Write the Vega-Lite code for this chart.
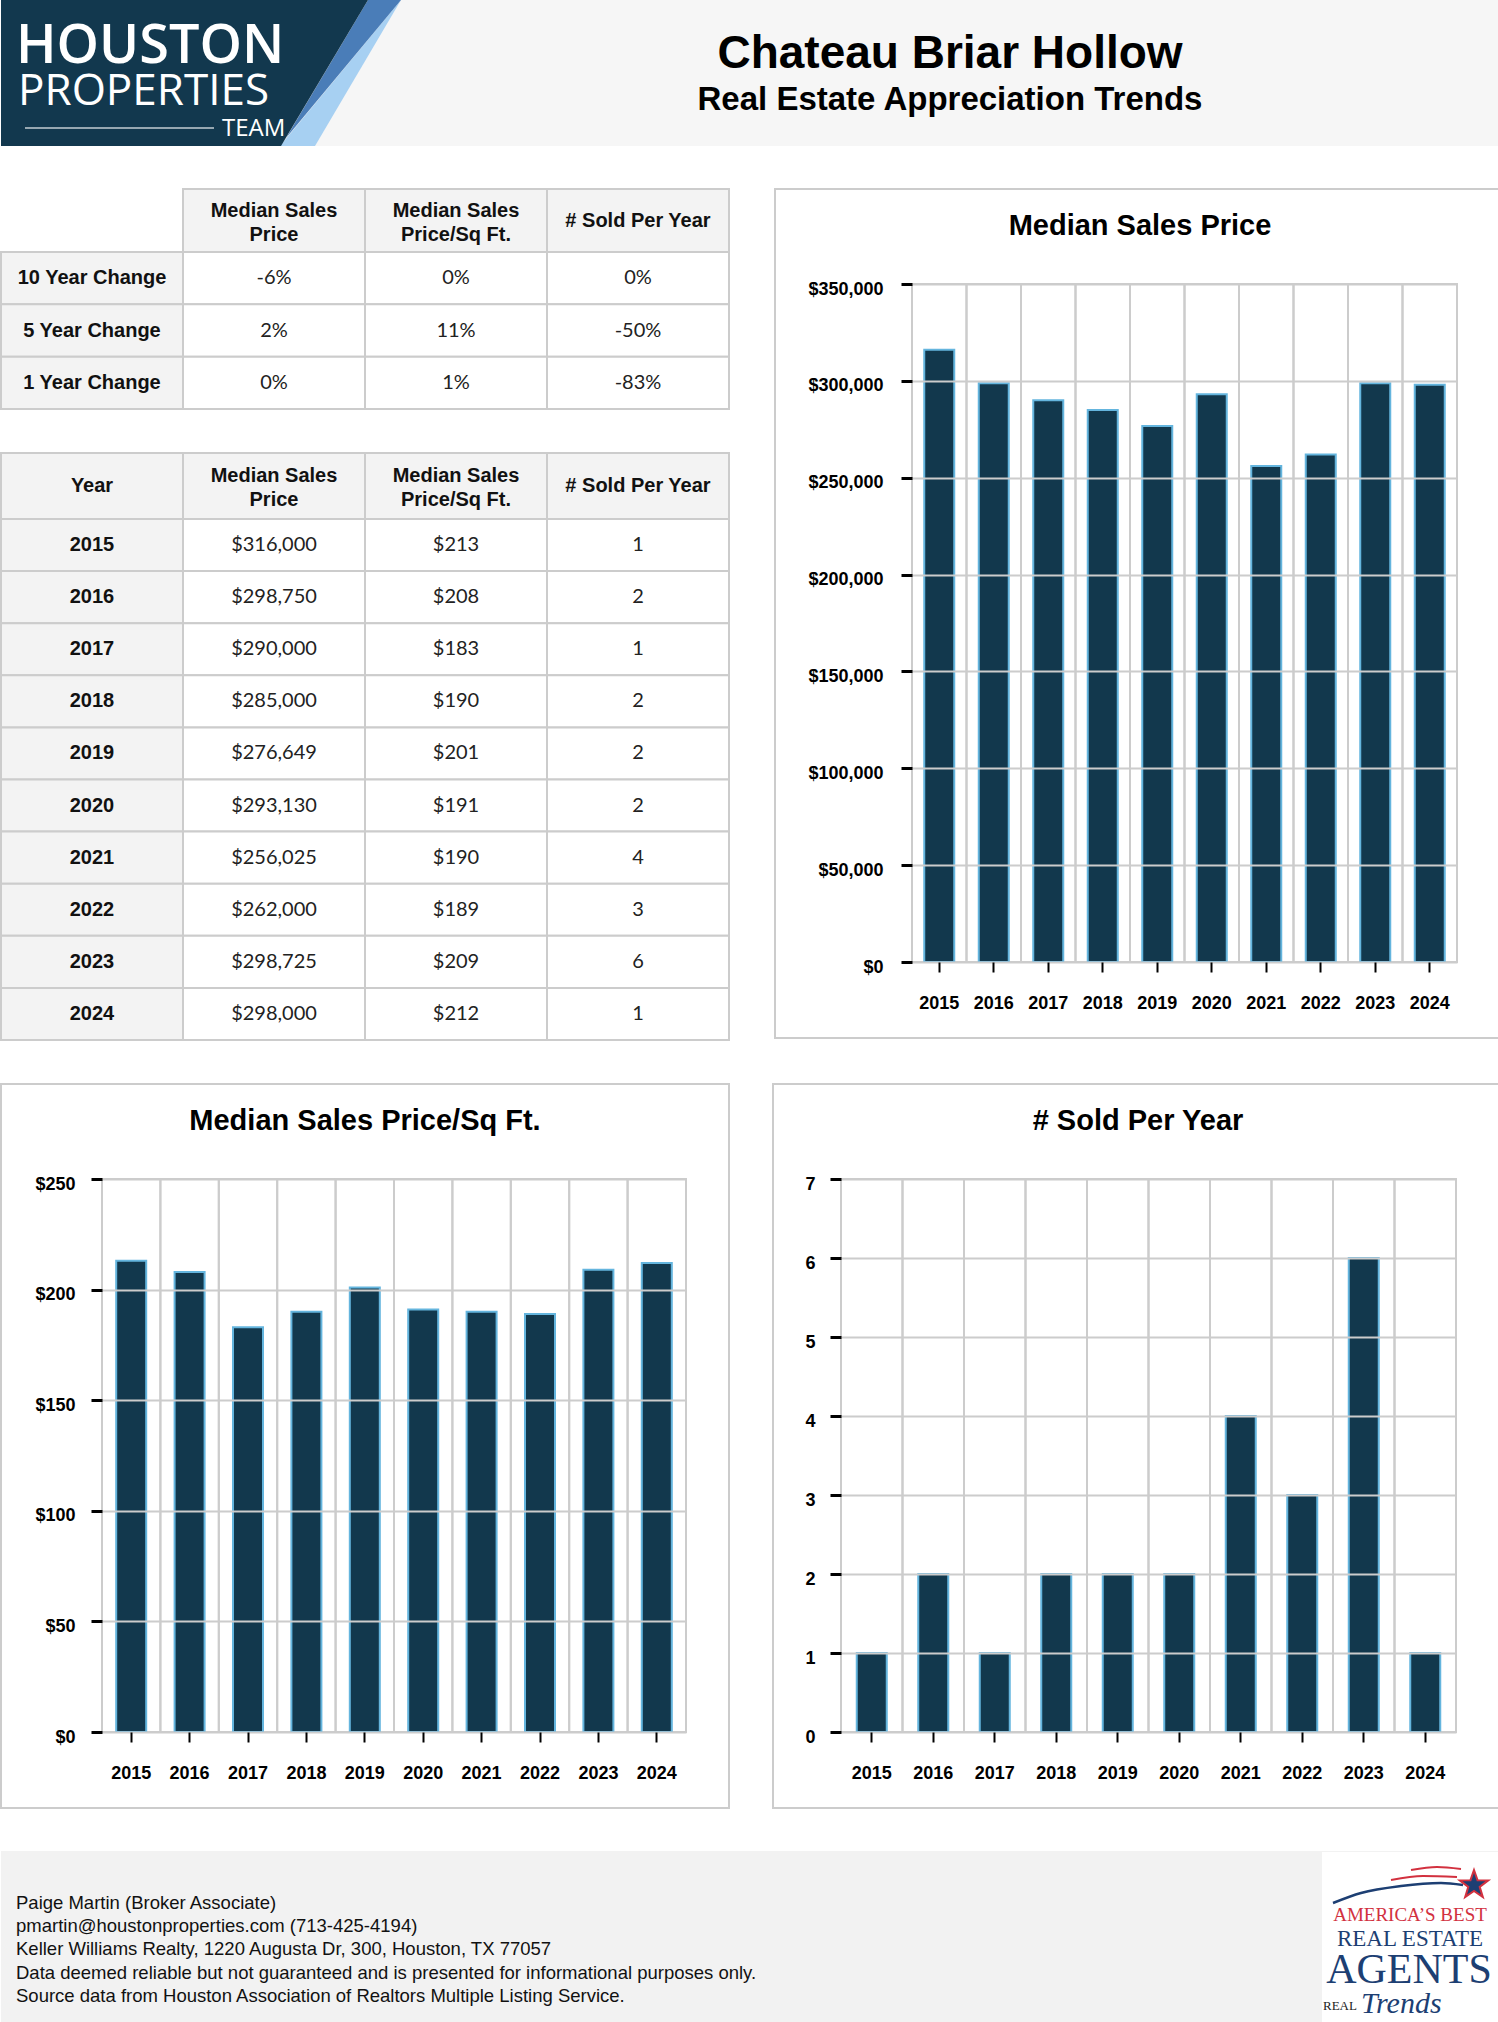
{
  "$schema": "https://vega.github.io/schema/vega-lite/v6.json",
  "padding": 0,
  "background": "#ffffff",
  "spacing": 42,
  "config": {
    "view": {"stroke": null},
    "font": "Liberation Sans",
    "locale": {"number": {"decimal": ".", "thousands": ",", "grouping": [3], "currency": ["$", ""], "minus": "-"}}
  },
  "datasets": {
    "years": [
      {"year": 2015, "price": 316000, "ppsf": 213, "sold": 1},
      {"year": 2016, "price": 298750, "ppsf": 208, "sold": 2},
      {"year": 2017, "price": 290000, "ppsf": 183, "sold": 1},
      {"year": 2018, "price": 285000, "ppsf": 190, "sold": 2},
      {"year": 2019, "price": 276649, "ppsf": 201, "sold": 2},
      {"year": 2020, "price": 293130, "ppsf": 191, "sold": 2},
      {"year": 2021, "price": 256025, "ppsf": 190, "sold": 4},
      {"year": 2022, "price": 262000, "ppsf": 189, "sold": 3},
      {"year": 2023, "price": 298725, "ppsf": 209, "sold": 6},
      {"year": 2024, "price": 298000, "ppsf": 212, "sold": 1}
    ],
    "changes": [
      {"period": "10 Year Change", "price": -0.06, "ppsf": 0, "sold": 0},
      {"period": "5 Year Change", "price": 0.02, "ppsf": 0.11, "sold": -0.5},
      {"period": "1 Year Change", "price": 0, "ppsf": 0.01, "sold": -0.83}
    ],
    "headers": [
      {"col": "year", "label": "Year"},
      {"col": "price", "label": "Median Sales\nPrice"},
      {"col": "ppsf", "label": "Median Sales\nPrice/Sq Ft."},
      {"col": "sold", "label": "# Sold Per Year"}
    ],
    "logo": [
      {"part": "light", "y": 0, "x": 400, "x2": 400},
      {"part": "light", "y": 146, "x": 279, "x2": 314},
      {"part": "mid", "y": 0, "x": 367, "x2": 400},
      {"part": "mid", "y": 138, "x": 285, "x2": 285},
      {"part": "navy", "y": 0, "x": 0, "x2": 367},
      {"part": "navy", "y": 146, "x": 0, "x2": 280}
    ],
    "swoosh": [
      {"arc": "navy", "x": 1332, "y": 52},
      {"arc": "navy", "x": 1360, "y": 42},
      {"arc": "navy", "x": 1400, "y": 35},
      {"arc": "navy", "x": 1440, "y": 32},
      {"arc": "navy", "x": 1462, "y": 34},
      {"arc": "red1", "x": 1390, "y": 29},
      {"arc": "red1", "x": 1422, "y": 25},
      {"arc": "red1", "x": 1456, "y": 26},
      {"arc": "red2", "x": 1410, "y": 19},
      {"arc": "red2", "x": 1436, "y": 16},
      {"arc": "red2", "x": 1460, "y": 18}
    ]
  },
  "vconcat": [
    {
      "width": 1498,
      "height": 146,
      "view": {"fill": "#f6f6f6", "stroke": null},
      "layer": [
        {
          "data": {"name": "logo"},
          "transform": [{"filter": "datum.part === 'light'"}],
          "mark": {"type": "area", "orient": "horizontal", "fill": "#a7d0f2"},
          "encoding": {
            "y": {"field": "y", "type": "quantitative", "scale": {"domain": [146, 0], "nice": false, "zero": false}, "axis": null},
            "x": {"field": "x", "type": "quantitative", "stack": null, "scale": {"domain": [0, 1498], "nice": false, "zero": false}, "axis": null},
            "x2": {"field": "x2"}
          }
        },
        {
          "data": {"name": "logo"},
          "transform": [{"filter": "datum.part === 'mid'"}],
          "mark": {"type": "area", "orient": "horizontal", "fill": "#4a7db8"},
          "encoding": {
            "y": {"field": "y", "type": "quantitative", "axis": null},
            "x": {"field": "x", "type": "quantitative", "stack": null, "axis": null},
            "x2": {"field": "x2"}
          }
        },
        {
          "data": {"name": "logo"},
          "transform": [{"filter": "datum.part === 'navy'"}],
          "mark": {"type": "area", "orient": "horizontal", "fill": "#12384e"},
          "encoding": {
            "y": {"field": "y", "type": "quantitative", "axis": null},
            "x": {"field": "x", "type": "quantitative", "stack": null, "axis": null},
            "x2": {"field": "x2"}
          }
        },
        {
          "data": {"values": [{}]},
          "mark": {"type": "rule", "stroke": "#ffffff", "strokeWidth": 1.5, "strokeOpacity": 0.75},
          "encoding": {
            "x": {"datum": 24, "type": "quantitative", "axis": null},
            "x2": {"datum": 213},
            "y": {"datum": 128, "type": "quantitative", "axis": null}
          }
        },
        {
          "data": {"values": [{}]},
          "mark": {"type": "text", "font": "Open Sans", "fontWeight": 600, "fontSize": 54, "fill": "#ffffff", "align": "left", "baseline": "alphabetic"},
          "encoding": {
            "x": {"datum": 15, "type": "quantitative", "axis": null},
            "y": {"datum": 63, "type": "quantitative", "axis": null},
            "text": {"value": "HOUSTON"}
          }
        },
        {
          "data": {"values": [{}]},
          "mark": {"type": "text", "font": "Open Sans", "fontWeight": 400, "fontSize": 44, "fill": "#ffffff", "align": "left", "baseline": "alphabetic"},
          "encoding": {
            "x": {"datum": 17, "type": "quantitative", "axis": null},
            "y": {"datum": 105, "type": "quantitative", "axis": null},
            "text": {"value": "PROPERTIES"}
          }
        },
        {
          "data": {"values": [{}]},
          "mark": {"type": "text", "font": "Open Sans", "fontWeight": 500, "fontSize": 24, "fill": "#ffffff", "align": "left", "baseline": "alphabetic"},
          "encoding": {
            "x": {"datum": 221, "type": "quantitative", "axis": null},
            "y": {"datum": 136, "type": "quantitative", "axis": null},
            "text": {"value": "TEAM"}
          }
        },
        {
          "data": {"values": [{}]},
          "mark": {"type": "text", "font": "Liberation Sans", "fontWeight": "bold", "fontSize": 46, "fill": "#000000", "align": "center", "baseline": "alphabetic"},
          "encoding": {
            "x": {"datum": 949, "type": "quantitative", "axis": null},
            "y": {"datum": 68, "type": "quantitative", "axis": null},
            "text": {"value": "Chateau Briar Hollow"}
          }
        },
        {
          "data": {"values": [{}]},
          "mark": {"type": "text", "font": "Liberation Sans", "fontWeight": "bold", "fontSize": 33, "fill": "#000000", "align": "center", "baseline": "alphabetic"},
          "encoding": {
            "x": {"datum": 949, "type": "quantitative", "axis": null},
            "y": {"datum": 110, "type": "quantitative", "axis": null},
            "text": {"value": "Real Estate Appreciation Trends"}
          }
        }
      ]
    },
    {
      "hconcat": [
        {
          "vconcat": [
            {
              "vconcat": [
                {
                  "width": 728,
                  "height": 63,
                  "data": {"name": "headers"},
                  "transform": [{"filter": "datum.col !== 'year'"}],
                  "encoding": {
                    "x": {"field": "col", "type": "nominal", "scale": {"domain": ["period", "price", "ppsf", "sold"], "paddingInner": 0, "paddingOuter": 0}, "axis": null},
                    "y": {"datum": "header", "type": "nominal", "scale": {"paddingInner": 0, "paddingOuter": 0}, "axis": null}
                  },
                  "layer": [
                    {"mark": {"type": "rect", "fill": "#f3f3f3", "stroke": "#cccccc", "strokeWidth": 2}},
                    {"transform": [{"filter": "indexof(datum.label, '\\n') >= 0"}],
                     "mark": {"type": "text", "font": "Liberation Sans", "fontSize": 20, "fontWeight": "bold", "fill": "#111111", "lineBreak": "\n", "lineHeight": 24, "dy": -10},
                     "encoding": {"text": {"field": "label", "type": "nominal"}}},
                    {"transform": [{"filter": "indexof(datum.label, '\\n') < 0"}],
                     "mark": {"type": "text", "font": "Liberation Sans", "fontSize": 20, "fontWeight": "bold", "fill": "#111111"},
                     "encoding": {"text": {"field": "label", "type": "nominal"}}}
                  ]
                },
                {
                  "width": 728,
                  "height": 157,
                  "data": {"name": "changes"},
                  "encoding": {
                    "y": {"field": "period", "type": "nominal", "sort": null, "scale": {"paddingInner": 0, "paddingOuter": 0}, "axis": null}
                  },
                  "layer": [
                    {
                      "transform": [{"fold": ["period", "price", "ppsf", "sold"], "as": ["col", "v"]}],
                      "mark": {"type": "rect", "stroke": "#cccccc", "strokeWidth": 2},
                      "encoding": {
                        "x": {"field": "col", "type": "nominal", "scale": {"domain": ["period", "price", "ppsf", "sold"], "paddingInner": 0, "paddingOuter": 0}, "axis": null},
                        "fill": {"condition": {"test": "datum.col === 'period'", "value": "#f3f3f3"}, "value": "#ffffff"}
                      }
                    },
                    {"mark": {"type": "text", "font": "Liberation Sans", "fontSize": 20, "fontWeight": "bold", "fill": "#111111"},
                     "encoding": {"x": {"datum": "period", "type": "nominal", "axis": null}, "text": {"field": "period", "type": "nominal"}}},
                    {"mark": {"type": "text", "font": "Lato", "fontSize": 20, "fill": "#222222"},
                     "encoding": {"x": {"datum": "price", "type": "nominal", "axis": null}, "text": {"field": "price", "type": "quantitative", "format": ".0%"}}},
                    {"mark": {"type": "text", "font": "Lato", "fontSize": 20, "fill": "#222222"},
                     "encoding": {"x": {"datum": "ppsf", "type": "nominal", "axis": null}, "text": {"field": "ppsf", "type": "quantitative", "format": ".0%"}}},
                    {"mark": {"type": "text", "font": "Lato", "fontSize": 20, "fill": "#222222"},
                     "encoding": {"x": {"datum": "sold", "type": "nominal", "axis": null}, "text": {"field": "sold", "type": "quantitative", "format": ".0%"}}}
                  ]
                }
              ],
              "spacing": 0,
              "bounds": "flush"
            },
            {
              "vconcat": [
                {
                  "width": 728,
                  "height": 66,
                  "data": {"name": "headers"},
                  "encoding": {
                    "x": {"field": "col", "type": "nominal", "scale": {"domain": ["year", "price", "ppsf", "sold"], "paddingInner": 0, "paddingOuter": 0}, "axis": null},
                    "y": {"datum": "header", "type": "nominal", "scale": {"paddingInner": 0, "paddingOuter": 0}, "axis": null}
                  },
                  "layer": [
                    {"mark": {"type": "rect", "fill": "#f3f3f3", "stroke": "#cccccc", "strokeWidth": 2}},
                    {"transform": [{"filter": "indexof(datum.label, '\\n') >= 0"}],
                     "mark": {"type": "text", "font": "Liberation Sans", "fontSize": 20, "fontWeight": "bold", "fill": "#111111", "lineBreak": "\n", "lineHeight": 24, "dy": -10},
                     "encoding": {"text": {"field": "label", "type": "nominal"}}},
                    {"transform": [{"filter": "indexof(datum.label, '\\n') < 0"}],
                     "mark": {"type": "text", "font": "Liberation Sans", "fontSize": 20, "fontWeight": "bold", "fill": "#111111"},
                     "encoding": {"text": {"field": "label", "type": "nominal"}}}
                  ]
                },
                {
                  "width": 728,
                  "height": 521,
                  "data": {"name": "years"},
                  "encoding": {
                    "y": {"field": "year", "type": "ordinal", "scale": {"paddingInner": 0, "paddingOuter": 0}, "axis": null}
                  },
                  "layer": [
                    {
                      "transform": [{"fold": ["year", "price", "ppsf", "sold"], "as": ["col", "v"]}],
                      "mark": {"type": "rect", "stroke": "#cccccc", "strokeWidth": 2},
                      "encoding": {
                        "x": {"field": "col", "type": "nominal", "scale": {"domain": ["year", "price", "ppsf", "sold"], "paddingInner": 0, "paddingOuter": 0}, "axis": null},
                        "fill": {"condition": {"test": "datum.col === 'year'", "value": "#f3f3f3"}, "value": "#ffffff"}
                      }
                    },
                    {"mark": {"type": "text", "font": "Liberation Sans", "fontSize": 20, "fontWeight": "bold", "fill": "#111111"},
                     "encoding": {"x": {"datum": "year", "type": "nominal", "axis": null}, "text": {"field": "year", "type": "ordinal"}}},
                    {"mark": {"type": "text", "font": "Lato", "fontSize": 20, "fill": "#222222"},
                     "encoding": {"x": {"datum": "price", "type": "nominal", "axis": null}, "text": {"field": "price", "type": "quantitative", "format": "$,.0f"}}},
                    {"mark": {"type": "text", "font": "Lato", "fontSize": 20, "fill": "#222222"},
                     "encoding": {"x": {"datum": "ppsf", "type": "nominal", "axis": null}, "text": {"field": "ppsf", "type": "quantitative", "format": "$,.0f"}}},
                    {"mark": {"type": "text", "font": "Lato", "fontSize": 20, "fill": "#222222"},
                     "encoding": {"x": {"datum": "sold", "type": "nominal", "axis": null}, "text": {"field": "sold", "type": "quantitative", "format": "d"}}}
                  ]
                }
              ],
              "spacing": 0,
              "bounds": "flush"
            }
          ],
          "spacing": 42
        },
        {
          "width": 730,
          "height": 849,
          "view": {"stroke": "#cccccc", "strokeWidth": 2, "fill": "#ffffff"},
          "title": {"text": "Median Sales Price", "font": "Liberation Sans", "fontSize": 29, "fontWeight": "bold", "color": "#000000", "anchor": "middle", "frame": "group", "offset": -75, "baseline": "alphabetic"},
          "data": {"name": "years"},
          "encoding": {
            "x": {"field": "year", "type": "ordinal", "scale": {"type": "band", "range": [137, 682], "paddingInner": 0, "paddingOuter": 0},
                  "axis": {"orient": "bottom", "offset": -76, "domain": false, "grid": false, "ticks": true, "tickColor": "#000000", "tickWidth": 2, "tickSize": 10, "labelPadding": 22, "labelFont": "Liberation Sans", "labelFontSize": 18, "labelFontWeight": "bold", "labelColor": "#000000", "labelAngle": 0, "title": null, "zindex": 1}}
          },
          "layer": [
            {
              "mark": {"type": "rect", "fill": "transparent", "stroke": "#cccccc", "strokeWidth": 2},
              "encoding": {
                "y": {"datum": 350000, "type": "quantitative", "scale": {"domain": [0, 350000], "range": [773, 95], "nice": false, "zero": true},
                      "axis": {"orient": "left", "offset": -137, "values": [0, 50000, 100000, 150000, 200000, 250000, 300000, 350000], "format": "$,.0f", "domain": false, "grid": true, "gridColor": "#cccccc", "gridWidth": 2, "ticks": true, "tickColor": "#000000", "tickWidth": 3, "tickSize": 11, "labelPadding": 18, "labelOffset": 5, "labelFont": "Liberation Sans", "labelFontSize": 18, "labelFontWeight": "bold", "labelColor": "#000000", "title": null, "zindex": 1}},
                "y2": {"datum": 0}
              }
            },
            {
              "mark": {"type": "bar", "width": 30, "fill": "#12384d", "stroke": "#64b5de", "strokeWidth": 2},
              "encoding": {
                "y": {"field": "price", "type": "quantitative", "scale": {"domain": [0, 350000], "range": [773, 95], "nice": false, "zero": true},
                      "axis": {"orient": "left", "offset": -137, "values": [0, 50000, 100000, 150000, 200000, 250000, 300000, 350000], "format": "$,.0f", "domain": false, "grid": true, "gridColor": "#cccccc", "gridWidth": 2, "ticks": true, "tickColor": "#000000", "tickWidth": 3, "tickSize": 11, "labelPadding": 18, "labelOffset": 5, "labelFont": "Liberation Sans", "labelFontSize": 18, "labelFontWeight": "bold", "labelColor": "#000000", "title": null, "zindex": 1}}
              }
            }
          ]
        }
      ],
      "spacing": 44
    },
    {
      "hconcat": [
        {
          "width": 728,
          "height": 724,
          "view": {"stroke": "#cccccc", "strokeWidth": 2, "fill": "#ffffff"},
          "title": {"text": "Median Sales Price/Sq Ft.", "font": "Liberation Sans", "fontSize": 29, "fontWeight": "bold", "color": "#000000", "anchor": "middle", "frame": "group", "offset": -75, "baseline": "alphabetic"},
          "data": {"name": "years"},
          "encoding": {
            "x": {"field": "year", "type": "ordinal", "scale": {"type": "band", "range": [101, 685], "paddingInner": 0, "paddingOuter": 0},
                  "axis": {"orient": "bottom", "offset": -76, "domain": false, "grid": false, "ticks": true, "tickColor": "#000000", "tickWidth": 2, "tickSize": 10, "labelPadding": 22, "labelFont": "Liberation Sans", "labelFontSize": 18, "labelFontWeight": "bold", "labelColor": "#000000", "labelAngle": 0, "title": null, "zindex": 1}}
          },
          "layer": [
            {
              "mark": {"type": "rect", "fill": "transparent", "stroke": "#cccccc", "strokeWidth": 2},
              "encoding": {
                "y": {"datum": 250, "type": "quantitative", "scale": {"domain": [0, 250], "range": [648, 95], "nice": false, "zero": true},
                      "axis": {"orient": "left", "offset": -101, "values": [0, 50, 100, 150, 200, 250], "format": "$,.0f", "domain": false, "grid": true, "gridColor": "#cccccc", "gridWidth": 2, "ticks": true, "tickColor": "#000000", "tickWidth": 3, "tickSize": 11, "labelPadding": 16, "labelOffset": 5, "labelFont": "Liberation Sans", "labelFontSize": 18, "labelFontWeight": "bold", "labelColor": "#000000", "title": null, "zindex": 1}},
                "y2": {"datum": 0}
              }
            },
            {
              "mark": {"type": "bar", "width": 30, "fill": "#12384d", "stroke": "#64b5de", "strokeWidth": 2},
              "encoding": {
                "y": {"field": "ppsf", "type": "quantitative", "scale": {"domain": [0, 250], "range": [648, 95], "nice": false, "zero": true},
                      "axis": {"orient": "left", "offset": -101, "values": [0, 50, 100, 150, 200, 250], "format": "$,.0f", "domain": false, "grid": true, "gridColor": "#cccccc", "gridWidth": 2, "ticks": true, "tickColor": "#000000", "tickWidth": 3, "tickSize": 11, "labelPadding": 16, "labelOffset": 5, "labelFont": "Liberation Sans", "labelFontSize": 18, "labelFontWeight": "bold", "labelColor": "#000000", "title": null, "zindex": 1}}
              }
            }
          ]
        },
        {
          "width": 730,
          "height": 724,
          "view": {"stroke": "#cccccc", "strokeWidth": 2, "fill": "#ffffff"},
          "title": {"text": "# Sold Per Year", "font": "Liberation Sans", "fontSize": 29, "fontWeight": "bold", "color": "#000000", "anchor": "middle", "frame": "group", "offset": -75, "baseline": "alphabetic"},
          "data": {"name": "years"},
          "encoding": {
            "x": {"field": "year", "type": "ordinal", "scale": {"type": "band", "range": [68, 683], "paddingInner": 0, "paddingOuter": 0},
                  "axis": {"orient": "bottom", "offset": -76, "domain": false, "grid": false, "ticks": true, "tickColor": "#000000", "tickWidth": 2, "tickSize": 10, "labelPadding": 22, "labelFont": "Liberation Sans", "labelFontSize": 18, "labelFontWeight": "bold", "labelColor": "#000000", "labelAngle": 0, "title": null, "zindex": 1}}
          },
          "layer": [
            {
              "mark": {"type": "rect", "fill": "transparent", "stroke": "#cccccc", "strokeWidth": 2},
              "encoding": {
                "y": {"datum": 7, "type": "quantitative", "scale": {"domain": [0, 7], "range": [648, 95], "nice": false, "zero": true},
                      "axis": {"orient": "left", "offset": -68, "values": [0, 1, 2, 3, 4, 5, 6, 7], "format": "d", "domain": false, "grid": true, "gridColor": "#cccccc", "gridWidth": 2, "ticks": true, "tickColor": "#000000", "tickWidth": 3, "tickSize": 11, "labelPadding": 15, "labelOffset": 5, "labelFont": "Liberation Sans", "labelFontSize": 18, "labelFontWeight": "bold", "labelColor": "#000000", "title": null, "zindex": 1}},
                "y2": {"datum": 0}
              }
            },
            {
              "mark": {"type": "bar", "width": 30, "fill": "#12384d", "stroke": "#64b5de", "strokeWidth": 2},
              "encoding": {
                "y": {"field": "sold", "type": "quantitative", "scale": {"domain": [0, 7], "range": [648, 95], "nice": false, "zero": true},
                      "axis": {"orient": "left", "offset": -68, "values": [0, 1, 2, 3, 4, 5, 6, 7], "format": "d", "domain": false, "grid": true, "gridColor": "#cccccc", "gridWidth": 2, "ticks": true, "tickColor": "#000000", "tickWidth": 3, "tickSize": 11, "labelPadding": 15, "labelOffset": 5, "labelFont": "Liberation Sans", "labelFontSize": 18, "labelFontWeight": "bold", "labelColor": "#000000", "title": null, "zindex": 1}}
              }
            }
          ]
        }
      ],
      "spacing": 44,
      "bounds": "flush"
    },
    {
      "width": 1498,
      "height": 171,
      "view": {"fill": "#f2f2f2", "stroke": null},
      "layer": [
        {
          "data": {"values": [{}]},
          "mark": {"type": "text", "font": "Liberation Sans", "fontSize": 18.5, "fill": "#111111", "align": "left", "baseline": "alphabetic", "lineHeight": 23.2},
          "encoding": {
            "x": {"datum": 15, "type": "quantitative", "scale": {"domain": [0, 1498], "nice": false, "zero": false}, "axis": null},
            "y": {"datum": 58, "type": "quantitative", "scale": {"domain": [171, 0], "nice": false, "zero": false}, "axis": null},
            "text": {"value": ["Paige Martin (Broker Associate)", "pmartin@houstonproperties.com (713-425-4194)", "Keller Williams Realty, 1220 Augusta Dr, 300, Houston, TX 77057", "Data deemed reliable but not guaranteed and is presented for informational purposes only.", "Source data from Houston Association of Realtors Multiple Listing Service."]}
          }
        },
        {
          "data": {"values": [{}]},
          "mark": {"type": "rect", "fill": "#ffffff"},
          "encoding": {
            "x": {"datum": 1321, "type": "quantitative", "axis": null},
            "x2": {"datum": 1498},
            "y": {"datum": 1, "type": "quantitative", "axis": null},
            "y2": {"datum": 171}
          }
        },
        {
          "data": {"name": "swoosh"},
          "transform": [{"filter": "datum.arc === 'navy'"}],
          "mark": {"type": "line", "stroke": "#1d3f73", "strokeWidth": 2.5, "interpolate": "monotone"},
          "encoding": {
            "x": {"field": "x", "type": "quantitative", "axis": null},
            "y": {"field": "y", "type": "quantitative", "axis": null}
          }
        },
        {
          "data": {"name": "swoosh"},
          "transform": [{"filter": "datum.arc !== 'navy'"}],
          "mark": {"type": "line", "stroke": "#d2313f", "strokeWidth": 2, "interpolate": "monotone"},
          "encoding": {
            "x": {"field": "x", "type": "quantitative", "axis": null},
            "y": {"field": "y", "type": "quantitative", "axis": null},
            "detail": {"field": "arc", "type": "nominal"}
          }
        },
        {
          "data": {"values": [{}]},
          "mark": {"type": "point", "shape": "M0,-1L0.235,-0.324L0.951,-0.309L0.380,0.124L0.588,0.809L0,0.4L-0.588,0.809L-0.380,0.124L-0.951,-0.309L-0.235,-0.324Z", "size": 900, "filled": true, "fill": "#1d3f73", "stroke": "#d2313f", "strokeWidth": 2, "opacity": 1},
          "encoding": {
            "x": {"datum": 1473, "type": "quantitative", "axis": null},
            "y": {"datum": 34, "type": "quantitative", "axis": null}
          }
        },
        {
          "data": {"values": [{}]},
          "mark": {"type": "text", "font": "Liberation Serif", "fontSize": 19, "fill": "#d2313f", "align": "center", "baseline": "middle"},
          "encoding": {
            "x": {"datum": 1409, "type": "quantitative", "axis": null},
            "y": {"datum": 64, "type": "quantitative", "axis": null},
            "text": {"value": "AMERICA’S BEST"}
          }
        },
        {
          "data": {"values": [{}]},
          "mark": {"type": "text", "font": "Liberation Serif", "fontSize": 23, "fill": "#1d3f73", "align": "center", "baseline": "middle"},
          "encoding": {
            "x": {"datum": 1409, "type": "quantitative", "axis": null},
            "y": {"datum": 88, "type": "quantitative", "axis": null},
            "text": {"value": "REAL ESTATE"}
          }
        },
        {
          "data": {"values": [{}]},
          "mark": {"type": "text", "font": "Liberation Serif", "fontSize": 42, "fill": "#1d3f73", "align": "center", "baseline": "middle"},
          "encoding": {
            "x": {"datum": 1408, "type": "quantitative", "axis": null},
            "y": {"datum": 119, "type": "quantitative", "axis": null},
            "text": {"value": "AGENTS"}
          }
        },
        {
          "data": {"values": [{}]},
          "mark": {"type": "text", "font": "Liberation Serif", "fontSize": 13, "fill": "#222222", "align": "left", "baseline": "middle"},
          "encoding": {
            "x": {"datum": 1322, "type": "quantitative", "axis": null},
            "y": {"datum": 155, "type": "quantitative", "axis": null},
            "text": {"value": "REAL"}
          }
        },
        {
          "data": {"values": [{}]},
          "mark": {"type": "text", "font": "Liberation Serif", "fontStyle": "italic", "fontSize": 30, "fill": "#1d3f73", "align": "left", "baseline": "middle"},
          "encoding": {
            "x": {"datum": 1360, "type": "quantitative", "axis": null},
            "y": {"datum": 153, "type": "quantitative", "axis": null},
            "text": {"value": "Trends"}
          }
        }
      ]
    }
  ]
}
